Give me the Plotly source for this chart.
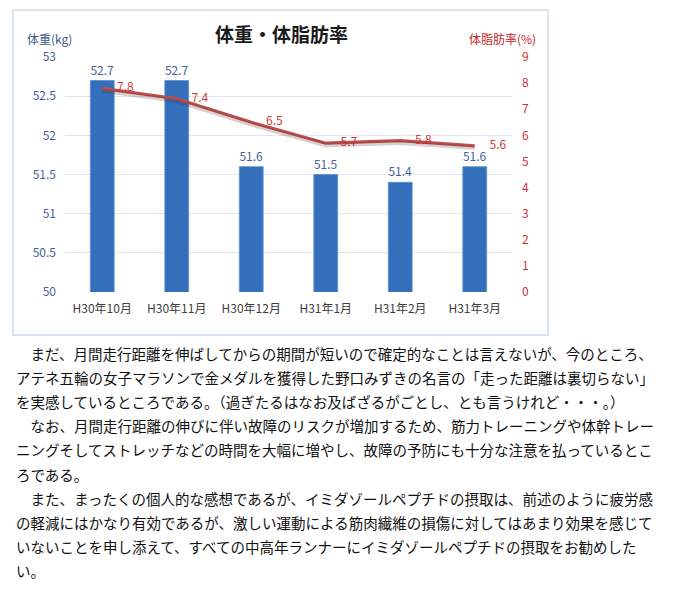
import plotly.graph_objects as go

# chart data
months = ["H30年10月", "H30年11月", "H30年12月", "H31年1月", "H31年2月", "H31年3月"]
weight = [52.7, 52.7, 51.6, 51.5, 51.4, 51.6]
body_fat = [7.8, 7.4, 6.5, 5.7, 5.8, 5.6]

# body text under the chart, one entry per rendered line
body_lines = [
    "\u3000まだ、月間走行距離を伸ばしてからの期間が短いので確定的なことは言えないが、今のところ、",
    "アテネ五輪の女子マラソンで金メダルを獲得した野口みずきの名言の「走った距離は裏切らない」",
    "を実感しているところである。（過ぎたるはなお及ばざるがごとし、とも言うけれど・・・。）",
    "\u3000なお、月間走行距離の伸びに伴い故障のリスクが増加するため、筋力トレーニングや体幹トレー",
    "ニングそしてストレッチなどの時間を大幅に増やし、故障の予防にも十分な注意を払っているとこ",
    "ろである。",
    "\u3000また、まったくの個人的な感想であるが、イミダゾールペプチドの摂取は、前述のように疲労感",
    "の軽減にはかなり有効であるが、激しい運動による筋肉繊維の損傷に対してはあまり効果を感じて",
    "いないことを申し添えて、すべての中高年ランナーにイミダゾールペプチドの摂取をお勧めした",
    "い。",
]

W, H = 674, 592
L, R, T, B = 65, 512, 57, 292   # plot area in pixels
FONT = "Noto Sans CJK JP"


def px(x):
    return (x - L) / (R - L)


def py(y):
    return (B - y) / (B - T)


fig = go.Figure()

fig.add_trace(go.Bar(
    x=months, y=weight, width=0.32,
    marker=dict(color="#346fbc", line=dict(color="#5a8fd2", width=0.8)),
    text=[f"{v:.1f}" for v in weight], textposition="outside",
    textfont=dict(color="#44629a", size=12, family=FONT),
    constraintext="none", cliponaxis=False,
))

# soft shadow under the line (same data on a slightly shifted axis)
fig.add_trace(go.Scatter(
    x=months, y=body_fat, yaxis="y3", mode="lines",
    line=dict(color="rgba(90,40,40,0.22)", width=4.5),
))

fig.add_trace(go.Scatter(
    x=months, y=body_fat, yaxis="y2", mode="lines+markers+text",
    line=dict(color="#c0504d", width=3.2),
    marker=dict(size=22, color="rgba(0,0,0,0)"),
    text=[f"{v:.1f}" for v in body_fat], textposition="middle right",
    textfont=dict(color="#d03a3a", size=12, family=FONT),
    cliponaxis=False,
))

fig.update_layout(
    width=W, height=H,
    margin=dict(l=L, r=W - R, t=T, b=H - B),
    paper_bgcolor="white", plot_bgcolor="white",
    showlegend=False,
    font=dict(family=FONT),
    xaxis=dict(showgrid=False, showline=False, zeroline=False,
               tickfont=dict(color="#404040", size=12), ticklabelstandoff=8),
    yaxis=dict(range=[50, 53], dtick=0.5, showgrid=True, gridcolor="#dde7f3",
               zeroline=False, showline=False,
               tickfont=dict(color="#44629a", size=12), ticklabelstandoff=8),
    yaxis2=dict(range=[0, 9], dtick=1, overlaying="y", side="right",
                showgrid=False, zeroline=False, showline=False,
                tickfont=dict(color="#d03030", size=12), ticklabelstandoff=9),
    yaxis3=dict(range=[0.08, 9.08], overlaying="y", visible=False),
    bargap=0.68,
)

# chart frame
fig.add_shape(type="rect", xref="paper", yref="paper",
              x0=px(13), x1=px(548), y0=py(335), y1=py(10),
              line=dict(color="#cfdcee", width=1.5), layer="below")

fig.add_annotation(text="<b>体重・体脂肪率</b>", xref="paper", yref="paper",
                   x=px(281), y=py(33), xanchor="center", yanchor="middle",
                   showarrow=False, font=dict(size=19, color="#1a1a1a"))
fig.add_annotation(text="体重(kg)", xref="paper", yref="paper",
                   x=px(25), y=py(38.5), xanchor="left", yanchor="middle",
                   showarrow=False, font=dict(size=12, color="#3d5a8c"))
fig.add_annotation(text="体脂肪率(%)", xref="paper", yref="paper",
                   x=px(538), y=py(39), xanchor="right", yanchor="middle",
                   showarrow=False, font=dict(size=12, color="#c0282d"))

for i, line in enumerate(body_lines):
    fig.add_annotation(text=line, xref="paper", yref="paper",
                       x=px(14), y=py(353 + i * 24.2),
                       xanchor="left", yanchor="middle", showarrow=False,
                       font=dict(size=14.5, color="#111111"))

# drop the default page margin so the figure sits at the window's corner
fig.write_html("out.html", config={"displayModeBar": False},
               post_script="document.body.style.margin='0';")
